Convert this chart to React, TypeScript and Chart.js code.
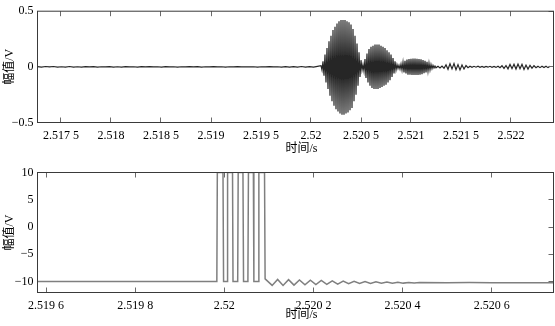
import React, { useEffect, useRef } from 'react';
import { Chart, registerables } from 'chart.js';

Chart.register(...registerables);

const FONT = '"Liberation Serif", "Noto Sans CJK SC", serif';
const X_TITLE = '\u3000时间/s';
const Y_TITLE = '幅值/V';

// ---------- top chart (received signal) ----------
const topXMin = 2.517265;
const topXMax = 2.522425;
const topYMin = -0.5;
const topYMax = 0.5;
const topXTicks = [2.5175, 2.518, 2.5185, 2.519, 2.5195, 2.52, 2.5205, 2.521, 2.5215, 2.522];
const topXTickLabels = ['2.517 5', '2.518', '2.518 5', '2.519', '2.519 5', '2.52', '2.520 5', '2.521', '2.521 5', '2.522'];
const topYTicks = [-0.5, 0, 0.5];
const topYTickLabels = ['\u22120.5', '0', '0.5'];

// quiet part before the burst (sample step 40 µs)
const quietStart = 2.517265;
const quietStep = 4e-5;
const quietValues = [
  0.002, -0.003, 0.003, -0.001, 0.003, -0.003, 0.001, -0.002, 0.003, -0.002,
  0.001, -0.002, 0.002, -0.001, 0.002, -0.003, 0.001, -0.001, 0.002, -0.002,
  0.001, -0.002, 0.002, -0.001, 0.001, -0.002, 0.002, -0.001, 0.002, -0.001,
  0.001, -0.002, 0.002, -0.001, 0.001, -0.002, 0.001, -0.001, 0.002, -0.001,
  0.002, -0.002, 0.001, -0.001, 0.002, -0.001, 0.001, -0.002, 0.001, -0.001,
  0.002, -0.001, 0.001, -0.001, 0.001, -0.002, 0.001, -0.001, 0.002, -0.001,
  0.001, -0.002, 0.002, -0.002, 0.002, -0.002, 0.003, -0.003, 0.002, -0.003, 0.004,
];

// burst (sample step 10 µs)
const burstStart = 2.5201;
const burstStep = 1e-5;
const burstValues = [
  0.01, -0.03, 0.05, -0.08, 0.11, -0.14, 0.17, -0.2, 0.23, -0.26,
  0.28, -0.31, 0.33, -0.35, 0.36, -0.38, 0.39, -0.4, 0.41, -0.42,
  0.42, -0.43, 0.42, -0.43, 0.42, -0.42, 0.41, -0.41, 0.4, -0.39,
  0.38, -0.37, 0.34, -0.31, 0.28, -0.25, 0.21, -0.17, 0.13, -0.09,
  0.06, -0.03, 0.02, -0.04, 0.07, -0.1, 0.12, -0.14, 0.16, -0.17,
  0.18, -0.19, 0.19, -0.2, 0.2, -0.2, 0.2, -0.2, 0.2, -0.19,
  0.19, -0.18, 0.18, -0.17, 0.17, -0.16, 0.15, -0.14, 0.13, -0.12,
  0.11, -0.09, 0.08, -0.06, 0.05, -0.03, 0.02, -0.015, 0.015, -0.02,
  0.025, -0.03, 0.04, -0.05, 0.055, -0.06, 0.065, -0.07, 0.07, -0.07,
  0.072, -0.072, 0.074, -0.074, 0.074, -0.074, 0.072, -0.072, 0.07, -0.07,
  0.068, -0.066, 0.062, -0.058, 0.055, -0.05, 0.045, -0.04, 0.034, -0.028,
  0.022, -0.017, 0.013, -0.01, 0.008,
];

// tail after the burst (sample step 20 µs)
const tailStart = 2.52125;
const tailStep = 2e-5;
const tailValues = [
  -0.008, 0.006, -0.01, 0.007, -0.012, 0.018, -0.022, 0.028, -0.018, 0.03,
  -0.026, 0.02, -0.028, 0.016, -0.02, 0.012, -0.008, 0.006, -0.004, 0.005,
  -0.003, 0.006, -0.004, 0.003, -0.005, 0.004, -0.003, 0.005, -0.004, 0.003,
  -0.005, 0.006, -0.008, 0.01, -0.014, 0.012, -0.018, 0.022, -0.016, 0.024,
  -0.02, 0.025, -0.018, 0.022, -0.024, 0.016, -0.02, 0.014, -0.012, 0.01,
  -0.008, 0.006, -0.007, 0.005, -0.006, 0.005, -0.007, 0.006,
];

// ---------- bottom chart (drive signal) ----------
const botXMin = 2.5195809;
const botXMax = 2.5207387;
const botYMin = -12;
const botYMax = 10;
const botXTicks = [2.5196, 2.5198, 2.52, 2.5202, 2.5204, 2.5206];
const botXTickLabels = ['2.519 6', '2.519 8', '2.52', '2.520 2', '2.520 4', '2.520 6'];
const botYTicks = [-10, -5, 0, 5, 10];
const botYTickLabels = ['\u221210', '\u22125', '0', '5', '10'];

const botTimes = [
  2.5195809, 2.5199833, 2.5199844, 2.5199971, 2.5199984,
  2.5200062, 2.5200074, 2.5200185, 2.5200196,
  2.5200301, 2.5200312, 2.5200419, 2.5200432,
  2.520053, 2.5200542, 2.5200653, 2.5200664,
  2.5200765, 2.5200776, 2.5200903, 2.5200916,
  2.5201074, 2.5201197, 2.5201319, 2.5201442, 2.5201564, 2.5201687,
  2.520181, 2.5201932, 2.5202055, 2.5202177, 2.52023, 2.5202423,
  2.5202545, 2.5202668, 2.520279, 2.5202913, 2.5203036, 2.5203158,
  2.5203281, 2.5203403, 2.5203526, 2.5203649, 2.5203771, 2.5203894,
  2.5204016, 2.5204139, 2.5204262, 2.5204384,
  2.5205, 2.52055, 2.5206, 2.52065, 2.5207, 2.5207387,
];
const botValues = [
  -10, -10, 10, 10, -10,
  -10, 10, 10, -10,
  -10, 10, 10, -10,
  -10, 10, 10, -10,
  -10, 10, 10, -9.5,
  -10.7, -9.6, -10.7, -9.65, -10.65, -9.7,
  -10.6, -9.75, -10.55, -9.8, -10.5, -9.85,
  -10.45, -9.9, -10.4, -9.95, -10.35, -10.0,
  -10.35, -10.05, -10.3, -10.1, -10.3, -10.12,
  -10.28, -10.15, -10.25, -10.18,
  -10.22, -10.18, -10.22, -10.2, -10.22, -10.2,
];

const sampled = (start: number, step: number, vals: number[]) =>
  vals.map((v, i) => ({ x: start + i * step, y: v }));

const topPoints = [
  ...sampled(quietStart, quietStep, quietValues),
  ...sampled(burstStart, burstStep, burstValues),
  ...sampled(tailStart, tailStep, tailValues),
];
const botPoints = botTimes.map((t, i) => ({ x: t, y: botValues[i] }));

const framePlugin = {
  id: 'frame',
  afterDatasetsDraw(chart: any) {
    const { ctx, chartArea: a, scales } = chart;
    const xs = scales.x;
    const ys = scales.y;
    ctx.save();
    ctx.lineWidth = 1;
    ctx.strokeStyle = '#6a6a6a';
    ctx.beginPath();
    xs.ticks.forEach((t: any) => {
      const p = Math.floor(xs.getPixelForValue(t.value)) + 0.5;
      ctx.moveTo(p, a.bottom);
      ctx.lineTo(p, a.bottom - 5);
      ctx.moveTo(p, a.top);
      ctx.lineTo(p, a.top + 5);
    });
    ys.ticks.forEach((t: any) => {
      const p = Math.floor(ys.getPixelForValue(t.value)) + 0.5;
      ctx.moveTo(a.right, p);
      ctx.lineTo(a.right - 5, p);
    });
    ctx.stroke();
    ctx.strokeStyle = '#3a3a3a';
    ctx.strokeRect(a.left, a.top, a.right - a.left, a.bottom - a.top);
    ctx.restore();
  },
};

type Cfg = {
  points: { x: number; y: number }[];
  color: string;
  lineWidth: number;
  xMin: number; xMax: number; yMin: number; yMax: number;
  xTicks: number[]; xLabels: string[]; yTicks: number[]; yLabels: string[];
  padTop: number; xHeight: number;
};

function makeConfig(c: Cfg): any {
  const font = { family: FONT, size: 12 };
  return {
    type: 'line',
    data: {
      datasets: [{
        data: c.points,
        borderColor: c.color,
        borderWidth: c.lineWidth,
        pointRadius: 0,
        tension: 0,
        fill: false,
      }],
    },
    options: {
      animation: false,
      responsive: false,
      devicePixelRatio: 1,
      events: [],
      layout: { padding: { left: 0, right: 1.5, top: c.padTop, bottom: 0 } },
      plugins: { legend: { display: false }, tooltip: { enabled: false } },
      scales: {
        x: {
          type: 'linear',
          min: c.xMin,
          max: c.xMax,
          grid: { display: false, drawTicks: false },
          border: { display: false },
          afterBuildTicks: (s: any) => { s.ticks = c.xTicks.map((v) => ({ value: v })); },
          afterFit: (s: any) => { s.height = c.xHeight; },
          ticks: {
            autoSkip: false, maxRotation: 0, minRotation: 0, padding: 6, color: '#000', font,
            callback: (_v: any, i: number) => c.xLabels[i],
          },
          title: { display: true, text: X_TITLE, color: '#000', font, padding: { top: 0, bottom: 4 } },
        },
        y: {
          type: 'linear',
          min: c.yMin,
          max: c.yMax,
          grid: { display: false, drawTicks: false },
          border: { display: false },
          afterBuildTicks: (s: any) => { s.ticks = c.yTicks.map((v) => ({ value: v })); },
          afterFit: (s: any) => { s.width = 37.5; },
          ticks: {
            autoSkip: false, padding: 4, color: '#000', font,
            callback: (_v: any, i: number) => c.yLabels[i],
          },
          title: { display: true, text: Y_TITLE, color: '#000', font, padding: { top: 2.3, bottom: 0 } },
        },
      },
    },
    plugins: [framePlugin],
  };
}

function Panel({ cfg, top, height }: { cfg: Cfg; top: number; height: number }) {
  const ref = useRef<HTMLCanvasElement>(null);
  useEffect(() => {
    const chart = new Chart(ref.current as HTMLCanvasElement, makeConfig(cfg));
    return () => chart.destroy();
  }, []);
  return (
    <canvas
      ref={ref}
      width={555}
      height={height}
      style={{ position: 'absolute', left: 0, top, width: 555, height, display: 'block' }}
    />
  );
}

export default function App() {
  const topCfg: Cfg = {
    points: topPoints, color: '#262626', lineWidth: 1.2,
    xMin: topXMin, xMax: topXMax, yMin: topYMin, yMax: topYMax,
    xTicks: topXTicks, xLabels: topXTickLabels, yTicks: topYTicks, yLabels: topYTickLabels,
    padTop: 7.5, xHeight: 37.5,
  };
  const botCfg: Cfg = {
    points: botPoints, color: '#7f7f7f', lineWidth: 1.5,
    xMin: botXMin, xMax: botXMax, yMin: botYMin, yMax: botYMax,
    xTicks: botXTicks, xLabels: botXTickLabels, yTicks: botYTicks, yLabels: botYTickLabels,
    padTop: 12.5, xHeight: 33.5,
  };
  return (
    <div style={{ position: 'absolute', left: 0, top: 0, width: 555, height: 326, background: '#fff' }}>
      <Panel cfg={topCfg} top={0} height={160} />
      <Panel cfg={botCfg} top={160} height={166} />
    </div>
  );
}
